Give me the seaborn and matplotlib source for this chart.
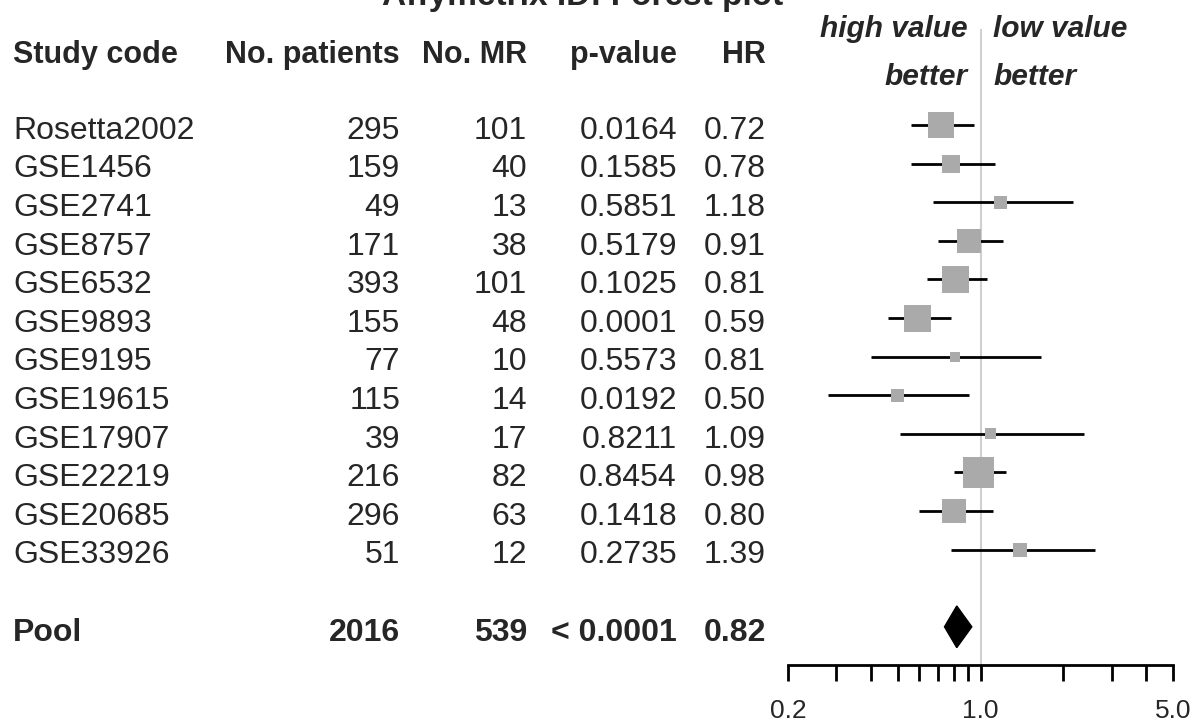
import numpy as np
import pandas as pd
import matplotlib.pyplot as plt
import seaborn as sns
from matplotlib.ticker import NullLocator

# Data
studies = ['Rosetta2002', 'GSE1456', 'GSE2741', 'GSE8757', 'GSE6532', 'GSE9893',
           'GSE9195', 'GSE19615', 'GSE17907', 'GSE22219', 'GSE20685', 'GSE33926']
n_patients = [295, 159, 49, 171, 393, 155, 77, 115, 39, 216, 296, 51]
n_mr = [101, 40, 13, 38, 101, 48, 10, 14, 17, 82, 63, 12]
p_values = ['0.0164', '0.1585', '0.5851', '0.5179', '0.1025', '0.0001',
            '0.5573', '0.0192', '0.8211', '0.8454', '0.1418', '0.2735']
hr = [0.72, 0.78, 1.18, 0.91, 0.81, 0.59, 0.81, 0.50, 1.09, 0.98, 0.80, 1.39]
ci_low = [0.56, 0.56, 0.67, 0.70, 0.64, 0.46, 0.40, 0.28, 0.51, 0.80, 0.60, 0.78]
ci_high = [0.95, 1.13, 2.17, 1.21, 1.06, 0.78, 1.66, 0.91, 2.37, 1.24, 1.11, 2.60]
weight = [26, 18, 13, 24, 27, 27, 10, 13, 11, 31, 24, 14]  # relative box weight

pool_n = 2016
pool_mr = 539
pool_p = '< 0.0001'
pool_hr = 0.82
pool_low = 0.74
pool_high = 0.93

headers = ['Study code', 'No. patients', 'No. MR', 'p-value', 'HR']
tick_vals = [0.2, 0.3, 0.4, 0.5, 0.6, 0.7, 0.8, 0.9, 1.0, 2, 3, 4, 5]
tick_labels = ['0.2', '', '', '', '', '', '', '', '1.0', '', '', '', '5.0']

df = pd.DataFrame({'study': studies, 'n': n_patients, 'mr': n_mr, 'p': p_values,
                   'hr': hr, 'lo': ci_low, 'hi': ci_high, 'w': weight})
df['row'] = np.arange(len(df))
pool_row = len(df) + 1

sns.set_style('white')
plt.rcParams['font.family'] = ['Liberation Sans', 'DejaVu Sans']

fig = plt.figure(figsize=(11.93, 7.25), dpi=100)

# text table axes (x in pixels, y in row units)
tax = fig.add_axes([0, 0, 1, 1])
tax.set_xlim(0, 1193)
tax.set_ylim(15.544, -3.238)
tax.axis('off')

base = 0.36
col_x = [13, 400, 527, 677, 766]

# title sits mostly above the top edge, as in the reference
tax.text(583, -3.11, 'Affymetrix ID: Forest plot', ha='center', va='baseline',
         fontsize=24, fontweight='bold')
for i, h in enumerate(headers):
    tax.text(col_x[i], -1.606, h, ha='left' if i == 0 else 'right', va='baseline',
             fontsize=22, fontweight='bold')

for _, r in df.iterrows():
    y = r['row'] + base
    tax.text(col_x[0], y, r['study'], ha='left', va='baseline', fontsize=23)
    tax.text(col_x[1], y, str(r['n']), ha='right', va='baseline', fontsize=23)
    tax.text(col_x[2], y, str(r['mr']), ha='right', va='baseline', fontsize=23)
    tax.text(col_x[3], y, r['p'], ha='right', va='baseline', fontsize=23)
    tax.text(col_x[4], y, f"{r['hr']:.2f}", ha='right', va='baseline', fontsize=23)

y = pool_row + base
tax.text(col_x[0], y, 'Pool', ha='left', va='baseline', fontsize=23, fontweight='bold')
tax.text(col_x[1], y, str(pool_n), ha='right', va='baseline', fontsize=23, fontweight='bold')
tax.text(col_x[2], y, str(pool_mr), ha='right', va='baseline', fontsize=23, fontweight='bold')
tax.text(col_x[3], y, pool_p, ha='right', va='baseline', fontsize=23, fontweight='bold')
tax.text(col_x[4], y, f'{pool_hr:.2f}', ha='right', va='baseline', fontsize=23, fontweight='bold')

tax.text(968, -2.28, 'high value', ha='right', va='baseline', fontsize=21.5,
         fontweight='bold', style='italic')
tax.text(968, -1.036, 'better', ha='right', va='baseline', fontsize=21.5,
         fontweight='bold', style='italic')
tax.text(993, -2.28, 'low value', ha='left', va='baseline', fontsize=21.5,
         fontweight='bold', style='italic')
tax.text(993, -1.036, 'better', ha='left', va='baseline', fontsize=21.5,
         fontweight='bold', style='italic')

# forest axes
ax = fig.add_axes([788 / 1193, 59.6 / 725, 385 / 1193, 636.9 / 725])
ax.patch.set_alpha(0)
ax.set_xscale('log')
ax.set_xlim(0.2, 5)
ax.set_ylim(pool_row + 1, -2.5)

ax.axvline(1.0, color='#d0d0d0', lw=1.5, zorder=1)
ax.hlines(df['row'], df['lo'], df['hi'], color='black', lw=2, zorder=2)
sizes = (df['w'] * 0.72) ** 2
sns.scatterplot(data=df, x='hr', y='row', marker='s', s=sizes, color='#aaaaaa',
                linewidth=0, legend=False, ax=ax, zorder=3)
ax.fill([pool_low, pool_hr, pool_high, pool_hr],
        [pool_row, pool_row - 0.54, pool_row, pool_row + 0.54],
        color='black', zorder=3)

for s in ['left', 'right', 'top']:
    ax.spines[s].set_visible(False)
ax.spines['bottom'].set_linewidth(2)
ax.spines['bottom'].set_color('black')
ax.set_yticks([])
ax.xaxis.set_minor_locator(NullLocator())
ax.set_xticks(tick_vals)
ax.set_xticklabels(tick_labels)
ax.tick_params(axis='x', direction='out', length=11.5, width=2, color='black',
               labelsize=19, pad=13, bottom=True)
ax.set_xlabel('')
ax.set_ylabel('')

fig.savefig('out.png', dpi=100)
